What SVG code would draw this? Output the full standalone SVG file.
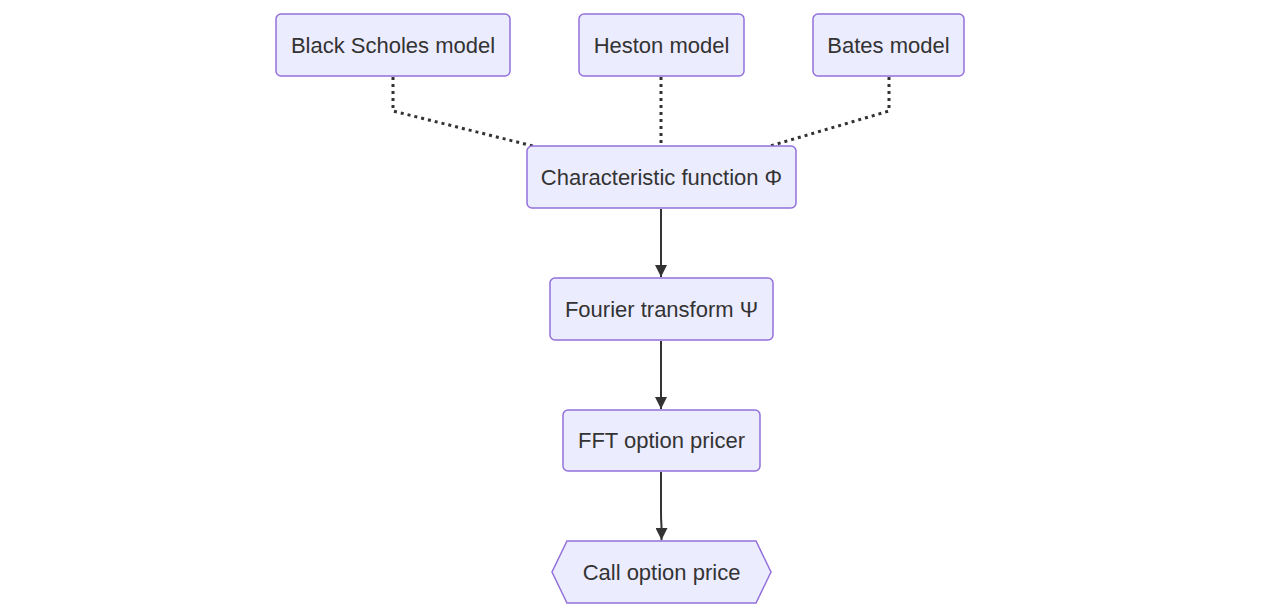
<svg xmlns="http://www.w3.org/2000/svg" width="1272" height="614" viewBox="0 0 1272 614">
<style>
.n{fill:#ECECFF;stroke:#9370DB;stroke-width:1.5}
.t{font-family:"Liberation Sans",Arial,sans-serif;font-size:22px;fill:#333;text-anchor:middle;dominant-baseline:central}
.d{fill:none;stroke:#333;stroke-width:3;stroke-dasharray:3 4}
.s{fill:none;stroke:#333;stroke-width:2}
</style>
<defs>
<marker id="ah" viewBox="0 0 10 10" refX="10" refY="5" markerWidth="6" markerHeight="6" markerUnits="strokeWidth" orient="auto">
<path d="M0,0L10,5L0,10z" fill="#333"/>
</marker>
</defs>
<rect width="1272" height="614" fill="#fff"/>
<g id="connectors">
<path class="d" d="M393,77V111L533,146"/>
<path class="d" d="M661,77V146"/>
<path class="d" d="M889,77V111L770,146"/>
<path class="s" d="M661,209V277" marker-end="url(#ah)"/>
<path class="s" d="M661,341V409" marker-end="url(#ah)"/>
<path class="s" d="M661,472V512Q661,520 661.5,526V540" marker-end="url(#ah)"/>
</g>
<g id="bs"><rect class="n" x="276" y="14" width="234" height="62" rx="5"/><text class="t" x="393" y="45">Black Scholes model</text></g>
<g id="heston"><rect class="n" x="579" y="14" width="165" height="62" rx="5"/><text class="t" x="661.5" y="45">Heston model</text></g>
<g id="bates"><rect class="n" x="813" y="14" width="151" height="62" rx="5"/><text class="t" x="888.5" y="45">Bates model</text></g>
<g id="cf"><rect class="n" x="527" y="146" width="269" height="62" rx="5"/><text class="t" x="661.5" y="177">Characteristic function Φ</text></g>
<g id="ft"><rect class="n" x="550" y="278" width="223" height="62" rx="5"/><text class="t" x="661.5" y="309">Fourier transform Ψ</text></g>
<g id="fft"><rect class="n" x="563" y="410" width="197" height="61" rx="5"/><text class="t" x="661.5" y="440.5">FFT option pricer</text></g>
<g id="call"><polygon class="n" points="567,541 756,541 771,572 756,603 567,603 552,572"/><text class="t" x="661.5" y="572">Call option price</text></g>
</svg>
